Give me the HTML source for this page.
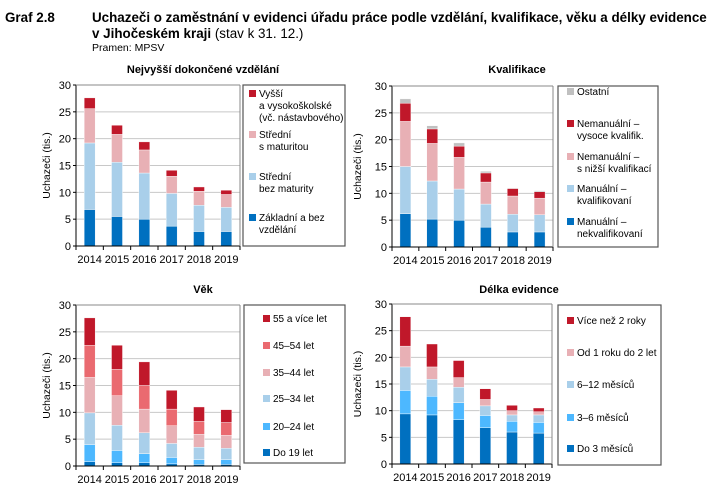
<!DOCTYPE html>
<html><head><meta charset="utf-8"><style>
body{margin:0;background:#fff;width:709px;height:498px;overflow:hidden;font-family:"Liberation Sans",Arial,sans-serif;}
</style></head><body>
<svg id="s" width="709" height="498" xmlns="http://www.w3.org/2000/svg" font-family="Liberation Sans, Arial, sans-serif">
<text x="5" y="22" font-size="13.4" font-weight="bold">Graf 2.8</text>
<text x="92" y="22" font-size="13.4" font-weight="bold">Uchazeči o zaměstnání v evidenci úřadu práce podle vzdělání, kvalifikace, věku a délky evidence</text>
<text x="92" y="38" font-size="13.4"><tspan font-weight="bold">v Jihočeském kraji</tspan> (stav k 31. 12.)</text>
<text x="92" y="51" font-size="10.5">Pramen: MPSV</text>
<text x="203" y="73" font-size="11" font-weight="bold" text-anchor="middle">Nejvyšší dokončené vzdělání</text>
<text x="517" y="73" font-size="11" font-weight="bold" text-anchor="middle">Kvalifikace</text>
<text x="203" y="293" font-size="11" font-weight="bold" text-anchor="middle">Věk</text>
<text x="519" y="293" font-size="11" font-weight="bold" text-anchor="middle">Délka evidence</text>
</svg>
<script>
var s=document.getElementById('s');var h='';
var DB='#0070c0',LB='#a9cfea',PK='#e8b0b5',RD='#c0182a',GR='#c0c0c0',SA='#ea6a70',BB='#4db8ff';
var years=['2014','2015','2016','2017','2018','2019'];
function panel(x0,x1,yt,yb,data,cols,ylx,lg,legItems){
 var sc=(yb-yt)/30;
 h+='<rect x="'+x0+'" y="'+yt+'" width="'+(x1-x0)+'" height="'+(yb-yt)+'" fill="#fff"/>';
 for(var v=5;v<=30;v+=5){var y=yb-v*sc;h+='<line x1="'+x0+'" x2="'+x1+'" y1="'+y+'" y2="'+y+'" stroke="#c8c8c8" stroke-width="1"/>';}
 for(var v=0;v<=30;v+=5){var y=yb-v*sc;h+='<text x="'+(x0-5)+'" y="'+(y+4)+'" font-size="11" text-anchor="end">'+v+'</text>';h+='<line x1="'+(x0-3)+'" x2="'+x0+'" y1="'+y+'" y2="'+y+'" stroke="#000"/>';}
 var cw=(x1-x0)/6;
 for(var i=0;i<6;i++){var cx=x0+cw*(i+0.5);var prev=0;
  for(var j=0;j<data[i].length;j++){var c=data[i][j];var ya=yb-c*sc,yb2=yb-prev*sc;
   h+='<rect x="'+(cx-5.5)+'" y="'+ya+'" width="11" height="'+(yb2-ya)+'" fill="'+cols[j]+'" stroke="#fff" stroke-width="0.4"/>';prev=c;}
  h+='<text x="'+cx+'" y="'+(yb+17)+'" font-size="11" text-anchor="middle">'+years[i]+'</text>';
  h+='<line x1="'+(x0+cw*i)+'" x2="'+(x0+cw*i)+'" y1="'+yb+'" y2="'+(yb+4)+'" stroke="#000"/>';}
 h+='<line x1="'+x1+'" x2="'+x1+'" y1="'+yb+'" y2="'+(yb+4)+'" stroke="#000"/>';
 h+='<line x1="'+x0+'" x2="'+x1+'" y1="'+yb+'" y2="'+yb+'" stroke="#000"/><line x1="'+x0+'" x2="'+x0+'" y1="'+yt+'" y2="'+yb+'" stroke="#000"/>';
 h+='<line x1="'+x1+'" x2="'+x1+'" y1="'+yt+'" y2="'+yb+'" stroke="#888"/><line x1="'+x0+'" x2="'+x1+'" y1="'+yt+'" y2="'+yt+'" stroke="#888"/>';
 var cy=(yt+yb)/2;h+='<text transform="translate('+ylx+','+cy+') rotate(-90)" font-size="10.5" text-anchor="middle">Uchazeči (tis.)</text>';
 h+='<rect x="'+lg[0]+'" y="'+lg[1]+'" width="'+(lg[2]-lg[0])+'" height="'+(lg[3]-lg[1])+'" fill="#fff" stroke="#555" stroke-width="1.2"/>';
 legItems.forEach(function(it){h+='<rect x="'+lg[4]+'" y="'+(it[1]-7)+'" width="7" height="7" fill="'+it[0]+'"/>';
  for(var k=2;k<it.length;k++)h+='<text x="'+lg[5]+'" y="'+(it[1]+(k-2)*12)+'" font-size="10">'+it[k]+'</text>';});
}
panel(76,240,85,246,[[6.8,19.2,25.6,27.6],[5.5,15.6,20.8,22.5],[5.0,13.6,17.9,19.4],[3.7,9.8,13.0,14.1],[2.7,7.6,10.2,11.0],[2.7,7.2,9.6,10.4]],[DB,LB,PK,RD],50,[243,85,345,246,249,259],
[[RD,97,'Vyšší','a vysokoškolské','(vč. nástavbového)'],[PK,138,'Střední','s maturitou'],[LB,180,'Střední','bez maturity'],[DB,221,'Základní a bez','vzdělání']]);
panel(392,553,86,247,[[6.2,15.0,23.4,26.8,27.6],[5.2,12.3,19.3,22.0,22.6],[5.0,10.8,16.7,18.8,19.4],[3.7,8.0,12.1,13.8,14.1],[2.8,6.1,9.5,10.9,11.0],[2.8,6.0,9.1,10.3,10.5]],[DB,LB,PK,RD,GR],361,[558,86,658,247,567,577],
[[GR,95,'Ostatní'],[RD,127,'Nemanuální –','vysoce kvalifik.'],[PK,160,'Nemanuální –','s nižší kvalifikací'],[LB,192,'Manuální –','kvalifikovaní'],[DB,225,'Manuální –','nekvalifikovaní']]);
panel(76,240,305,466,[[0.8,4.0,9.9,16.5,22.5,27.6],[0.6,2.9,7.6,13.1,18.0,22.5],[0.6,2.3,6.2,10.6,15.0,19.4],[0.4,1.6,4.2,7.5,10.6,14.1],[0.3,1.2,3.5,5.9,8.3,11.0],[0.3,1.2,3.3,5.7,8.1,10.5]],[DB,BB,LB,PK,SA,RD],50,[244,305,345,463,263,273],
[[RD,322,'55 a více let'],[SA,349,'45–54 let'],[PK,376,'35–44 let'],[LB,402,'25–34 let'],[BB,430,'20–24 let'],[DB,456,'Do 19 let']]);
panel(392,552,304,464,[[9.4,13.8,18.2,22.1,27.6],[9.2,12.7,15.9,18.2,22.5],[8.3,11.5,14.4,16.2,19.4],[6.8,9.1,10.9,12.1,14.1],[6.0,8.0,9.2,10.0,11.0],[5.8,7.8,9.2,9.8,10.5]],[DB,BB,LB,PK,RD],361,[558,305,661,465,567,577],
[[RD,324,'Více než 2 roky'],[PK,356,'Od 1 roku do 2 let'],[LB,388,'6–12 měsíců'],[BB,421,'3–6 měsíců'],[DB,452,'Do 3 měsíců']]);
s.insertAdjacentHTML('beforeend',h);
</script>
</body></html>
